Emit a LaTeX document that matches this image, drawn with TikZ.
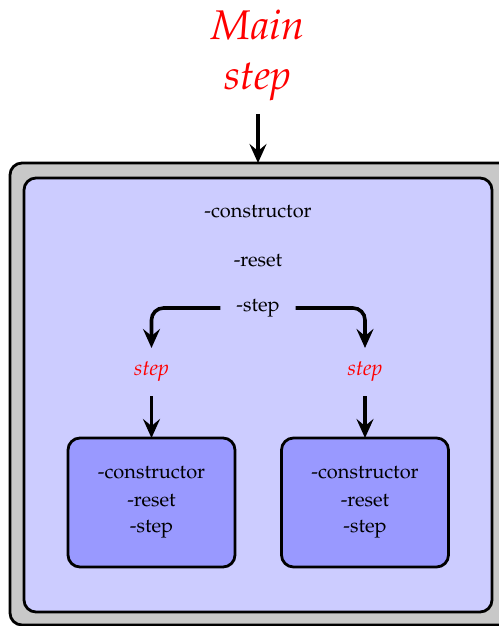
\documentclass[tikz,border=0pt]{standalone}
\usepackage[T1]{fontenc}
\usepackage{mathpazo}
\usepackage{tikz}
\usetikzlibrary{arrows.meta,positioning}
\definecolor{FrameGrey}{HTML}{C8C8C8}
\definecolor{ModuleBlue}{HTML}{CCCCFF}
\definecolor{ChildBlue}{HTML}{9999FF}
\definecolor{CallRed}{HTML}{FF0000}

\begin{document}
\begin{tikzpicture}[x=0.5pt,y=0.5pt,
  box/.style={draw=black,line width=1.4pt,rounded corners=6pt,outer sep=0pt,inner sep=0pt},
  call/.style={line width=1.8pt,-{Stealth[length=9.5pt,width=8.5pt,inset=3.5pt]}}]
  \useasboundingbox (0,0) rectangle (498,-626);
  \node[box,fill=FrameGrey,minimum width=251pt,minimum height=231pt,anchor=north west] (frame) at (10,-163) {};
  \node[box,fill=ModuleBlue,minimum width=234pt,minimum height=217pt,anchor=north west] (module) at (24,-178) {};
  \node[text=CallRed,font=\huge\itshape,align=center] (title) at (258,-55) {Main\\step};
  \draw[call,shorten <=3pt] (title.south) -- (title.south |- frame.north);
  \node (ctor) at (258,-212) {-constructor};
  \node (reset) at (258,-261) {-reset};
  \node (meth) at (258,-308) {-step};
  \foreach \side/\xpos in {L/151.5,R/365} {
    \node[text=CallRed,font=\fontsize{10.8}{13}\selectfont\itshape] (call\side) at (\xpos,-371) {step};
    \node[box,fill=ChildBlue,minimum width=83.5pt,minimum height=64.5pt,align=center] (child\side) at (\xpos,-502.5)
      {-constructor\\[2pt]-reset\\[1pt]-step};
    \draw[call,shorten <=4pt] (call\side.south) -- (child\side.north);
  }
  \draw[call,rounded corners=6pt,shorten <=4.5pt,shorten >=3pt] (meth.west) -| (callL.north);
  \draw[call,rounded corners=6pt,shorten <=4.5pt,shorten >=3pt] (meth.east) -| (callR.north);
\end{tikzpicture}
\end{document}
